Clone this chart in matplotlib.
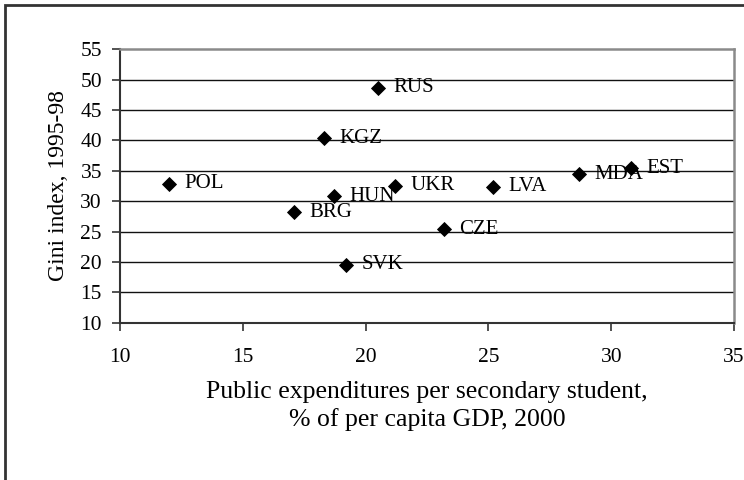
import matplotlib
matplotlib.use('Agg')
import matplotlib.pyplot as plt

# country codes, spending (% of GDP per capita) and Gini index
countries = ['POL', 'BRG', 'KGZ', 'HUN', 'SVK', 'RUS', 'UKR', 'CZE', 'LVA', 'MDA', 'EST']
spend = [12.0, 17.1, 18.3, 18.7, 19.2, 20.5, 21.2, 23.2, 25.2, 28.7, 30.8]
gini = [32.9, 28.2, 40.4, 30.8, 19.5, 48.7, 32.5, 25.4, 32.4, 34.4, 35.4]

x_ticks = [10, 15, 20, 25, 30, 35]
y_ticks = [10, 15, 20, 25, 30, 35, 40, 45, 50, 55]

plt.rcParams['font.family'] = ['Liberation Serif', 'DejaVu Serif']

fig = plt.figure(figsize=(7.44, 4.8), dpi=100)
ax = fig.add_axes([0.1613, 0.3277, 0.8253, 0.5696])

# horizontal grid lines
for v in y_ticks[1:-1]:
    ax.axhline(v, color='#111111', lw=1.0, zorder=1)

ax.plot(spend, gini, 'D', color='black', ms=6.8, mew=0.6, zorder=3, clip_on=False)
for name, xv, yv in zip(countries, spend, gini):
    ax.annotate(name, (xv, yv), xytext=(11, 0), textcoords='offset points',
                va='center', ha='left', fontsize=15, zorder=4)

ax.set_xlim(10, 35)
ax.set_ylim(10, 55)
ax.set_xticks(x_ticks)
ax.set_yticks(y_ticks)
ax.tick_params(axis='both', direction='out', length=6, width=1.2, color='#333333',
               labelsize=15.5)
ax.tick_params(axis='x', pad=12)
ax.tick_params(axis='y', pad=7)

for side in ['left', 'bottom']:
    ax.spines[side].set_color('#333333')
    ax.spines[side].set_linewidth(1.5)
for side in ['top', 'right']:
    ax.spines[side].set_color('#8a8a8a')
    ax.spines[side].set_linewidth(1.8)

ax.set_xlabel('Public expenditures per secondary student,\n% of per capita GDP, 2000',
              fontsize=18.5, labelpad=10, linespacing=1.3)
ax.set_ylabel('Gini index, 1995-98', fontsize=17, labelpad=8)

# outer frame (cropped at right and bottom)
frame = plt.Rectangle((5 / 744, -0.2), 1.2, 1 - 5 / 480 + 0.2, transform=fig.transFigure,
                      fill=False, edgecolor='#333333', lw=2, clip_on=False)
fig.add_artist(frame)

fig.savefig('out.png', dpi=100)
